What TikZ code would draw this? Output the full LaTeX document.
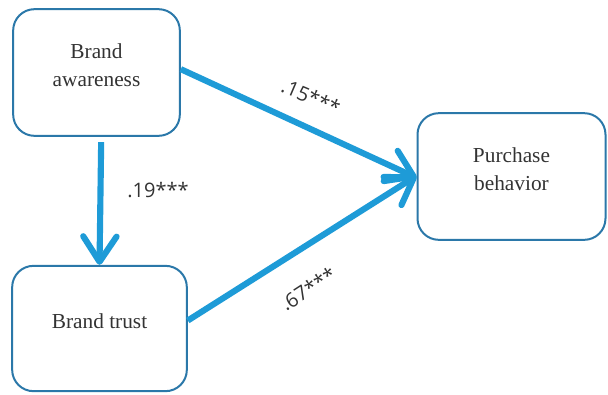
\documentclass[tikz,border=0pt]{standalone}
\usepackage{fontspec}
\setmainfont{Liberation Serif}
\newfontfamily\labelfont{Open Sans}
\usetikzlibrary{arrows.meta, positioning}
\definecolor{boxblue}{HTML}{2B78A9}
\definecolor{arrowblue}{HTML}{1E9BD7}
\definecolor{textgray}{HTML}{333333}
\begin{document}
\begin{tikzpicture}[x=0.75pt, y=-0.75pt,
  construct/.style={draw=boxblue, line width=1.5pt, rounded corners=16pt,
    align=center, text=textgray, text depth=11pt, font=\fontsize{16}{21}\selectfont},
  path/.style={draw=arrowblue, line width=4.6pt,
    -{Straight Barb[length=19pt, width=25pt, round]}},
  coef/.style={text=textgray, font=\labelfont\fontsize{15}{18}\selectfont}]
\useasboundingbox (0,0) rectangle (608,394);
% Modelo: tres constructos con sus coeficientes
\node[construct, minimum width=125pt, minimum height=95pt] (aware) at (96.5,72.5) {Brand\\awareness};
\node[construct, minimum width=131pt, minimum height=94pt] (trust) at (99.5,328.5) {Brand trust};
\node[construct, minimum width=141pt, minimum height=95pt] (buy) at (511.5,176.5) {Purchase\\behavior};
% Flechas
\draw[path] ([yshift=2.5pt]aware.east) -- ([yshift=-1pt]buy.west);
\draw[path] ([xshift=3.5pt, yshift=-4pt]aware.south) -- ([xshift=0pt]trust.north);
\draw[path] ([yshift=6pt]trust.east) -- ([yshift=0.5pt]buy.west);
% Coeficientes
\node[coef, rotate=-23] (c1) at (311,97) {.15***};
\node[coef] (c2) at (158,190) {.19***};
\node[coef, rotate=33] (c3) at (308,289) {.67***};
\end{tikzpicture}
\end{document}
